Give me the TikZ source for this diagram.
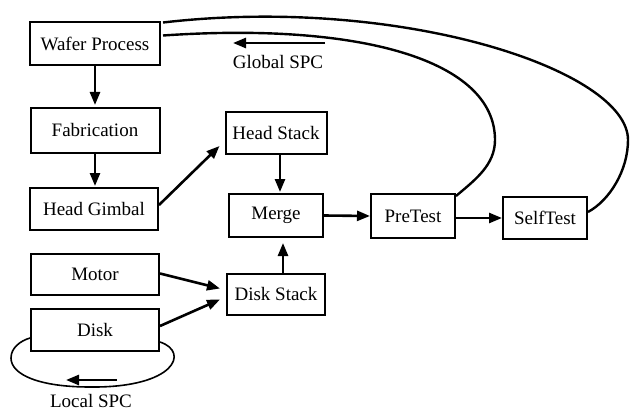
\documentclass[tikz,border=0pt]{standalone}
\usepackage{fontspec}
\setmainfont{Liberation Serif}
\usetikzlibrary{arrows.meta,calc}
\begin{document}
\begin{tikzpicture}[x=1pt,y=-1pt,
  box/.style={draw,line width=2pt,minimum width=#1,inner sep=0pt,font=\fontsize{19}{21}\selectfont},
  arr/.style={line width=2.6pt,-{Triangle[length=13pt,width=10pt]}},
  curve/.style={line width=2.4pt},
  lbl/.style={font=\fontsize{19}{21}\selectfont,inner sep=0pt}]
\useasboundingbox (0,0) rectangle (630,412);
\node[box=130pt,minimum height=43pt] (wafer) at (95,44) {Wafer Process};
\node[box=129pt,minimum height=45pt] (fab) at (95,130.5) {Fabrication};
\node[box=128pt,minimum height=42pt] (gimbal) at (94,209) {Head Gimbal};
\node[box=101pt,minimum height=42pt] (hstack) at (276,133) {Head Stack};
\node[box=94pt,minimum height=43pt] (merge) at (276,215.5) {Merge};
\node[box=98pt,minimum height=41pt] (dstack) at (276,294.5) {Disk Stack};
\node[box=128pt,minimum height=41pt] (motor) at (95,274.5) {Motor};
\node[box=128pt,minimum height=42pt] (disk) at (95,330) {Disk};
\node[box=84pt,minimum height=44pt] (pretest) at (413,216) {PreTest};
\node[box=84pt,minimum height=42pt] (selftest) at (545,218) {SelfTest};
% arrows
\draw[arr] (wafer.south) -- ([yshift=2pt]fab.north);
\draw[arr] (fab.south) -- ([yshift=1pt]fab.south |- gimbal.north);
\draw[arr] ([yshift=4pt]gimbal.east) -- ([xshift=-5pt,yshift=-13pt]hstack.west);
\draw[arr] ([xshift=4pt]hstack.south) -- ([xshift=4pt,yshift=1pt]merge.north);
\draw[arr] ([xshift=7pt]dstack.north) -- ([xshift=7pt,yshift=-5pt]merge.south);
\draw[arr] ([yshift=1pt]motor.east) -- ([xshift=-6pt,yshift=6pt]dstack.west);
\draw[arr] ([yshift=4pt]disk.east) -- ([xshift=-6pt,yshift=-5pt]dstack.west);
\draw[arr] (merge.east) -- (pretest.west);
\draw[arr] ([yshift=-2pt]pretest.east) -- (selftest.west);
% feedback curves
\coordinate (pin) at ([yshift=-3pt]pretest.north east);
\coordinate (win) at ([xshift=2pt,yshift=-14pt]wafer.north east);
\draw[curve] (pin) .. controls (475,180) and (495,165) .. (495,140)
  .. controls (495,60) and (360,22) .. (win);
\coordinate (sout) at ([yshift=6pt]selftest.east);
\coordinate (wout) at ([xshift=2pt,yshift=-1pt]wafer.north east);
\draw[curve] (sout) .. controls (610,200) and (628,170) .. (628,140)
  .. controls (628,70) and (400,-5) .. (wout);
% global SPC
\coordinate (g1) at (325,43);
\coordinate (g2) at (233,43);
\draw[arr] (g1) -- (g2);
\node[lbl] (glabel) at (278,62) {Global SPC};
% local SPC
\coordinate (dr) at ([yshift=-12pt]disk.east);
\coordinate (dl) at ([yshift=-8pt]disk.west);
\draw[line width=1.6pt] (dr) .. controls (190,352) and (175,388) .. (90,387)
  .. controls (40,387) and (11,375) .. (11,358)
  .. controls (11,348) and (20,341) .. (dl);
\coordinate (l1) at (117,380);
\coordinate (l2) at (66,380);
\draw[arr] (l1) -- (l2);
\node[lbl] (llabel) at (91,401) {Local SPC};
\end{tikzpicture}
\end{document}
